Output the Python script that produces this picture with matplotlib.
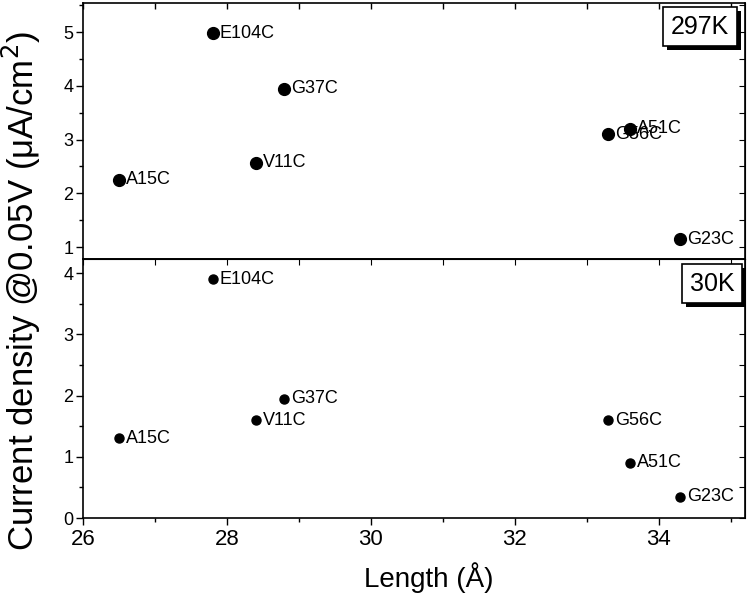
import matplotlib
matplotlib.use("Agg")
import matplotlib.pyplot as plt
import matplotlib.patheffects as pe
from matplotlib.ticker import MultipleLocator

plt.rcParams['font.family'] = ['Liberation Sans', 'DejaVu Sans']

# Data
names = ['E104C', 'G37C', 'V11C', 'A15C', 'G56C', 'A51C', 'G23C']
length = [27.8, 28.8, 28.4, 26.5, 33.3, 33.6, 34.3]
j_297K = [4.98, 3.95, 2.57, 2.25, 3.10, 3.20, 1.15]
j_30K = [3.90, 1.95, 1.60, 1.30, 1.60, 0.90, 0.35]

fig = plt.figure(figsize=(7.56, 5.99), dpi=100)
ax_top = fig.add_axes([0.1098, 0.5676, 0.8756, 0.4274])
ax_bot = fig.add_axes([0.1098, 0.1352, 0.8756, 0.4324], sharex=ax_top)


def style(ax):
    for s in ax.spines.values():
        s.set_linewidth(1.2)
    ax.yaxis.set_major_locator(MultipleLocator(1))
    ax.yaxis.set_minor_locator(MultipleLocator(0.5))
    ax.xaxis.set_major_locator(MultipleLocator(2))
    ax.xaxis.set_minor_locator(MultipleLocator(1))
    ax.tick_params(which='both', direction='out', width=1.0)
    ax.tick_params(which='major', length=5)
    ax.tick_params(which='minor', length=3)
    ax.tick_params(axis='y', labelsize=13, pad=2)
    ax.tick_params(axis='x', labelsize=16, pad=3)
    for lab in ax.get_xticklabels():
        lab.set_family(['Liberation Sans Narrow', 'Liberation Sans'])
    sec = ax.secondary_yaxis('right')
    sec.yaxis.set_major_locator(MultipleLocator(0.5))
    sec.tick_params(which='both', direction='in', labelright=False, length=4)


def label_points(ax, ys, ms):
    ax.plot(length, ys, 'o', color='black', markersize=ms, linestyle='none')
    for n, x, y in zip(names, length, ys):
        ax.annotate(n, (x, y), xytext=(5, 0), textcoords='offset points',
                    va='center', ha='left', fontsize=13)


def temp_box(ax, txt, x, y):
    t = ax.text(x, y, txt, transform=ax.transAxes, ha='center', va='center',
                fontsize=18,
                bbox=dict(boxstyle='square,pad=0.3', fc='white', ec='black', lw=1.2))
    t.get_bbox_patch().set_path_effects(
        [pe.SimplePatchShadow(offset=(3, -3), shadow_rgbFace='black', alpha=1.0), pe.Normal()])


label_points(ax_top, j_297K, 8.5)
label_points(ax_bot, j_30K, 6.5)

ax_top.set_xlim(26, 35.2)
ax_top.set_ylim(0.78, 5.54)
ax_bot.set_ylim(0, 4.23)

style(ax_top)
style(ax_bot)

# top panel: ticks on top edge pointing in, no bottom ticks
ax_top.tick_params(axis='x', which='both', bottom=False, labelbottom=False,
                   top=True, direction='in', length=4)
sec = ax_bot.secondary_xaxis('top')
sec.xaxis.set_major_locator(MultipleLocator(1))
sec.tick_params(direction='in', labeltop=False, length=4)

temp_box(ax_top, '297K', 0.932, 0.908)
temp_box(ax_bot, '30K', 0.950, 0.905)

fig.text(0.567, 0.035, 'Length (Å)', ha='center', va='center', fontsize=20)
fig.text(0.028, 0.515, 'Current density @0.05V (μA/cm$^2$)', rotation=90,
         ha='center', va='center', fontsize=25)

fig.savefig('out.png', dpi=100)
